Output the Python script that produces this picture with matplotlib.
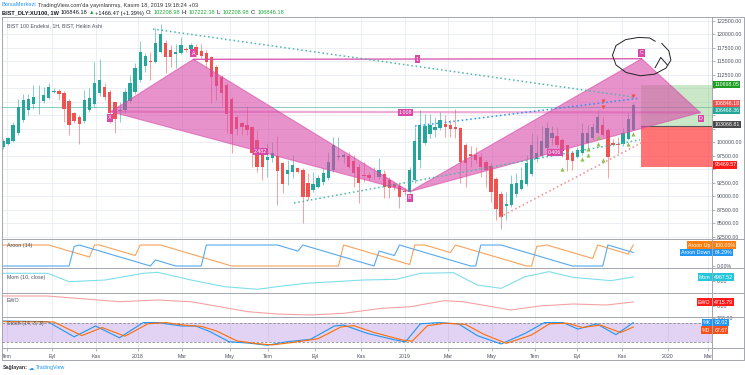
import numpy as np
import matplotlib
matplotlib.use("Agg")
import matplotlib.pyplot as plt
from matplotlib import font_manager
import matplotlib.transforms as mtrans
from matplotlib.patches import Polygon, Rectangle

_names = {f.name for f in font_manager.fontManager.ttflist}
if 'Liberation Sans Narrow' in _names:
    BASE = 'Liberation Sans Narrow'
    NARROW = True
elif 'Liberation Sans' in _names:
    BASE = 'Liberation Sans'
    NARROW = False
else:
    BASE = 'DejaVu Sans'
    NARROW = False
plt.rcParams['font.family'] = [BASE, 'DejaVu Sans']

# ------------------------------------------------------------------ data
ha_open = [99170, 99670, 100280, 101640, 104110, 105960, 107010, 107750, 107690, 108250,
           109300, 109420, 109170, 107690, 105410, 104670, 103990, 105900, 107070, 109050,
           110280, 109300, 107380, 105840, 105960, 107630, 109240, 111520, 114110, 115040,
           114910, 116640, 118310, 117070, 116400, 116520, 117260, 117200, 117570, 116890,
           116460, 115720, 113930, 112140, 110650, 107940, 104730, 103560, 103190, 102750,
           100350, 97880, 96700, 97010, 97510, 96090, 94110, 94480, 95160, 94850,
           92380, 91150, 91700, 92570, 93430, 94910, 97200, 97320, 97510, 96520,
           95410, 93930, 93860, 93620, 93560, 94050, 92940, 92200, 91950, 90960,
           90840, 93000, 96640, 99910, 101460, 102320, 102570, 103370, 103120, 102820,
           102690, 99540, 97880, 97690, 97200, 96330, 95590, 93250, 90410, 88250,
           88430, 90350, 91400, 92200, 94170, 96830, 97440, 98860, 100720, 101210,
           100350, 99420, 98060, 97320, 97940, 99790, 100720, 101770, 103190, 102260,
           99790, 99670, 99610, 100650, 102208.98]
ha_high = [100650, 101020, 103800, 107940, 108930, 108930, 110590, 110590, 110280, 110900,
           109980, 109790, 109540, 107940, 105650, 105040, 109670, 109980, 114910, 115350,
           110900, 109670, 107510, 107510, 109980, 112450, 114610, 118740, 116460, 116770,
           121090, 121890, 118930, 118000, 118190, 119540, 117690, 118430, 118190, 118120,
           117070, 115960, 114300, 112450, 110900, 108430, 105040, 103800, 106700, 103000,
           102260, 98250, 99790, 100100, 101150, 96400, 96700, 97630, 95470, 95160,
           94230, 94540, 93930, 95160, 98250, 100900, 101020, 98060, 98250, 97630,
           96090, 96400, 94540, 95470, 97010, 94850, 93620, 92690, 92380, 91460,
           95470, 102880, 105960, 105220, 105220, 104730, 105650, 105040, 104110, 106090,
           102880, 99790, 99300, 99170, 97940, 96700, 96090, 93620, 91020, 90840,
           93930, 94230, 95470, 97630, 101640, 101330, 103000, 103800, 103000, 102880,
           100720, 99480, 98250, 99170, 103490, 103190, 103490, 105960, 104730, 102570,
           100530, 101020, 102570, 105350, 107222.38]
ha_low = [98800, 99420, 100040, 101330, 103800, 105040, 106090, 105220, 107320, 107940,
          109050, 107820, 103800, 101330, 103490, 99610, 103620, 105650, 106460, 108560,
          107820, 103490, 101770, 103800, 105470, 107320, 108930, 111210, 113060, 111520,
          114610, 116460, 112750, 113990, 113680, 116330, 116770, 116950, 115720, 115530,
          113680, 107200, 107820, 106700, 101640, 98060, 101330, 101330, 101330, 95470,
          94540, 93000, 93620, 96400, 88370, 90530, 92070, 93310, 94230, 84980,
          89300, 90840, 91460, 92070, 93000, 94540, 96700, 96090, 95160, 91770,
          88800, 92690, 93000, 93120, 93120, 89600, 89600, 91150, 87750, 90220,
          90530, 92380, 95160, 99480, 100720, 101020, 102260, 101020, 101020, 100720,
          92380, 91770, 95470, 96090, 93620, 91770, 88990, 85590, 83860, 85590,
          88060, 89910, 91150, 91890, 93740, 96400, 97200, 98560, 99480, 99170,
          97200, 94730, 94850, 97010, 97630, 98860, 100410, 101640, 101020, 93310,
          99300, 97940, 99300, 100410, 102208.98]
ha_close = [100280, 100720, 103190, 106580, 107820, 108000, 108310, 107880, 108800, 110280,
            109540, 108860, 106210, 103120, 103990, 103310, 107820, 108190, 111030, 111460,
            108310, 105470, 104230, 106030, 109360, 110900, 113800, 116770, 115960, 114790,
            118310, 119980, 115780, 115720, 116700, 117940, 117070, 118000, 116150, 116030,
            114910, 112140, 110410, 109170, 105220, 101520, 102380, 102750, 102260, 97940,
            95350, 95470, 97320, 97940, 94730, 92200, 94850, 95780, 94540, 89910,
            89910, 92260, 93430, 94230, 96400, 99480, 97440, 97630, 95470, 94230,
            92380, 93800, 93310, 93490, 94850, 91770, 91460, 91640, 89910, 90720,
            94850, 100280, 103190, 103000, 103190, 102750, 104110, 102880, 102440, 102510,
            96400, 96210, 97510, 96700, 95470, 94850, 90840, 87570, 86090, 88560,
            92200, 92380, 93000, 96090, 99480, 98060, 100280, 102570, 101640, 99480,
            98430, 96700, 96520, 98560, 101640, 101640, 102750, 104610, 101330, 97320,
            99540, 99480, 101640, 104230, 106846.18]

price_ticks = list(range(82500, 122501, 2500))
hidden_ticks = [110000, 107500, 105000, 102500, 95000]

month_labels = ['Tem', 'Eyl', 'Kas', '2018', 'Mar', 'May', 'Tem', 'Eyl', 'Kas',
                '2019', 'Mar', 'May', 'Tem', 'Eyl', 'Kas', '2020', 'Mar']
month_pos = [0.79, 9.64, 18.30, 26.56, 35.22, 44.66, 52.13, 61.38, 70.43,
             79.09, 87.55, 96.20, 104.66, 112.92, 121.78, 130.83, 138.70]

# harmonic pattern points
pat_names = ['X', 'A', 'B', 'C', 'D']
pat_idx = [21.19, 37.44, 80.01, 125.65, 137.12]
pat_price = [105650, 115350, 90830, 115450, 105500]
ratio_pairs = [(0, 2), (1, 3), (2, 4), (0, 4)]
ratio_text = ['2.482', '1', '0.406', '1.008']

# dotted trend lines
tl_idx = [(29.51, 123.94), (57.25, 125.32), (81.06, 125.32), (97.78, 125.91)]
tl_price = [(120960, 108370), (88740, 100430), (102980, 108165), (86150, 100035)]
tl_color = ['#4db6ac', '#4db6ac', '#2196f3', '#f28b8b']

# signal markers
buy_idx = [110, 114, 115, 115, 117, 117, 118, 123, 124]
buy_price = [95040, 96890, 97630, 98740, 100870, 99670, 96700, 99670, 101520]
sell_idx = [118, 118, 124]
sell_price = [107630, 106430, 108550]

# long position tool & horizontal line
pos_start = 125.5
pos_target = 110668.05
pos_entry = 103068.81
pos_stop = 95469.57
hline_teal = 106468.36
last_close = 106846.18

# freehand circle around C
free_idx = [128.3, 127.2, 125.0, 122.5, 120.6, 119.9, 120.6, 122.6, 125.4, 128.2, 130.4, 131.4, 131.0, 129.6]
free_price = [118700, 119300, 119400, 119000, 117900, 116100, 114300, 112900, 112300, 112600, 113700, 115200, 116900, 118300]
arrow_idx = [128.3, 129.4, 130.7]
arrow_price = [113800, 115700, 114300]

aroon_up_idx = [0, 9, 17, 18, 19, 26, 27, 31, 45, 66, 67, 80, 81, 83, 88, 89, 103, 104, 105, 107, 114, 116, 117, 123, 124]
aroon_up_val = [100, 100, 43, 100, 100, 50, 100, 100, 0, 0, 100, 7, 100, 100, 64, 100, 0, 0, 93, 100, 50, 36, 100, 57, 100]
aroon_dn_idx = [0, 13, 14, 15, 29, 30, 33, 34, 39, 40, 54, 58, 59, 73, 74, 77, 78, 92, 93, 94, 98, 112, 118, 119, 124]
aroon_dn_val = [0, 0, 93, 100, 0, 29, 7, 0, 0, 100, 100, 71, 100, 0, 71, 50, 100, 0, 0, 100, 100, 0, 0, 100, 64.29]

mom_idx = [0, 8.8, 13, 20.1, 27.6, 30.4, 37, 43.6, 50.1, 53.9, 59.5, 65.2, 70.8, 77.4, 82.1, 88.6, 93.3, 98, 102.7, 107.4, 112.1, 119.6, 124]
mom_val = [9560, 9560, -870, 1240, 9560, 10800, 1240, -7080, -10300, -7080, -2860, -870, 1240, 2070, 9560, 10350, -4970, -9110, 5380, 11600, 4550, 410, 4967.52]

ewo_idx = [0, 8.8, 22.9, 30.4, 37, 42.6, 48.2, 53.9, 60.5, 67, 74.5, 80.2, 86.8, 90.5, 96.2, 99.9, 105.5, 112.1, 118.7, 124]
ewo_val = [11790, 11790, 5070, 7070, 5070, -800, -6720, -9430, -10600, -8650, -2750, -800, 6290, 5070, -800, -4720, 0, 2360, 1180, 4715.79]

stk_idx = [0, 8.8, 14, 18.2, 22.9, 27.6, 30.4, 35.1, 37.9, 40.7, 44.5, 48.2, 52, 55.8, 60.5, 65.2, 67, 71.7, 77.4, 79.2, 82.1, 85.8, 89.6, 93.3, 98, 102.7, 106.5, 110.2, 113.1, 116.8, 120.6, 124]
stk_val = [87, 85, 36, 71, 33, 82, 82, 71, 71, 53, 20, 16, 9, 20, 28, 71, 74, 47, 25, 20, 78, 82, 78, 40, 13, 47, 82, 82, 61, 78, 43, 82.02]
std_idx = [0, 10, 15.5, 19.5, 24, 28.5, 32, 36, 39, 42, 46, 50, 53, 57, 62, 66.5, 69, 73, 78.5, 80.5, 83.5, 87, 91, 94.5, 99, 104, 107.5, 111, 114, 117.5, 121.5, 124]
std_val = [85, 84, 40, 66, 38, 78, 82, 73, 70, 55, 23, 14, 10, 18, 30, 68, 72, 50, 26, 22, 72, 80, 76, 45, 15, 42, 78, 80, 66, 74, 50, 67.67]

# ------------------------------------------------------------------ layout
W, H = 745, 375
PX0, PXS = 3.0, 5.083
XL = ((2 - PX0) / PXS, (712 - PX0) / PXS)
GRID = '#e8edf3'
UP, DN = '#26a69a', '#ef5350'
PINK = '#d84aa8'
FS = 4.6 if NARROW else 3.8
FSH = 4.9 if NARROW else 4.05

fig = plt.figure(figsize=(W / 100, H / 100), dpi=100)
fig.patch.set_facecolor('white')


def pane(y0, y1):
    ax = fig.add_axes([2 / W, 1 - y1 / H, 710 / W, (y1 - y0) / H])
    ax.set_xlim(*XL)
    ax.set_facecolor('none')
    for s in ax.spines.values():
        s.set_visible(False)
    ax.tick_params(which='both', left=False, bottom=False, right=False, top=False,
                   labelleft=False, labelbottom=False)
    for p in month_pos:
        ax.axvline(p, color=GRID, lw=0.6, zorder=0)
    return ax


def right_ticks(ax, ticks, labels):
    ax.set_yticks(ticks)
    ax.set_yticklabels(labels)
    ax.tick_params(axis='y', right=True, labelright=True, length=2, width=0.5,
                   color='#9598a1', labelsize=FS, labelcolor='#4c525e', pad=1.5)


def side_label(ax, y, name, value, fc):
    tr = mtrans.blended_transform_factory(ax.transAxes, ax.transData)
    kw = dict(transform=tr, fontsize=FS, color='white', va='center',
              bbox=dict(boxstyle='square,pad=0.2', fc=fc, ec='none'), zorder=20, clip_on=False)
    if name:
        ax.text(0.9982, y, name, ha='right', **kw)
    ax.text(1.0032, y, value, ha='left', **kw)


# ------------------------------------------------------------------ main pane
ax = pane(18, 239)
ax.set_ylim(82070, 123000)
for t in price_ticks:
    ax.axhline(t, color=GRID, lw=0.6, zorder=0)
right_ticks(ax, price_ticks, ['' if t in hidden_ticks else f'{t:.2f}' for t in price_ticks])

idx = np.arange(len(ha_open))
o = np.array(ha_open); c = np.array(ha_close)
hi = np.array(ha_high); lo = np.array(ha_low)
cols = np.where(c >= o, UP, DN)
ax.vlines(idx, lo, hi, colors=cols, lw=0.7, alpha=0.55, zorder=3)
ax.bar(idx, np.maximum(np.abs(c - o), 150), bottom=np.minimum(o, c), width=0.66,
       color=cols, zorder=3.1, linewidth=0)

# horizontal teal line
ax.axhline(hline_teal, color='#4db6ac', lw=0.6, alpha=0.8, zorder=2)

# long position tool
ax.add_patch(Rectangle((pos_start, pos_entry), XL[1] - pos_start, pos_target - pos_entry,
                       fc='#7cc576', alpha=0.4, ec='none', zorder=2))
ax.add_patch(Rectangle((pos_start, pos_stop), XL[1] - pos_start, pos_entry - pos_stop,
                       fc='#ff3b3b', alpha=0.7, ec='none', zorder=2))
ax.plot([pos_start, XL[1]], [pos_entry, pos_entry], color='#555555', lw=0.8, zorder=2.5)

# harmonic pattern
P = list(zip(pat_idx, pat_price))
for tri in ([P[0], P[1], P[2]], [P[2], P[3], P[4]]):
    ax.add_patch(Polygon(tri, closed=True, fc=PINK, alpha=0.6, ec=PINK, lw=0.8, zorder=4))
ax.plot([pat_idx[1], pat_idx[3]], [pat_price[1], pat_price[3]], color=PINK, lw=0.9, zorder=4.2)
ax.plot([pat_idx[0], pat_idx[4]], [pat_price[0], pat_price[4]], color=PINK, lw=1.6, alpha=0.45, zorder=4.2)
for (a, b), txt in zip(ratio_pairs, ratio_text):
    ax.text((pat_idx[a] + pat_idx[b]) / 2, (pat_price[a] + pat_price[b]) / 2, txt,
            fontsize=FS, color='white', ha='center', va='center', zorder=9,
            bbox=dict(boxstyle='square,pad=0.2', fc=PINK, ec='none'))
offs = [(-1, -6), (0, 6), (0, -6), (0, 6), (1, -6)]
for name, xi, yi, (dx, dy) in zip(pat_names, pat_idx, pat_price, offs):
    tr = mtrans.offset_copy(ax.transData, fig=fig, x=dx, y=dy, units='dots')
    ax.text(xi, yi, name, transform=tr, fontsize=FS, color='white', ha='center', va='center',
            zorder=9, bbox=dict(boxstyle='square,pad=0.25', fc=PINK, ec='none'))

# dotted trend lines
for (x0, x1), (y0, y1), col in zip(tl_idx, tl_price, tl_color):
    ax.plot([x0, x1], [y0, y1], color=col, lw=1.1, ls=(0, (1, 1.8)), zorder=5)

# signals
ax.scatter(buy_idx, buy_price, marker='^', s=9, color='#8bc34a', linewidths=0, zorder=6)
ax.scatter(sell_idx, sell_price, marker='v', s=9, color='#ef5350', linewidths=0, zorder=6)

# freehand circle
ax.plot(free_idx, free_price, color='#222222', lw=0.7, zorder=7)
ax.plot(arrow_idx, arrow_price, color='#222222', lw=0.7, zorder=7)

# price labels on axis
side_label(ax, pos_target, None, f'{pos_target:.2f}', '#1b9e22')
side_label(ax, 107130, None, f'{last_close:.2f}', '#ef5350')
side_label(ax, 105830, None, f'{hline_teal:.2f}', '#26a69a')
side_label(ax, 103310, None, f'{pos_entry:.2f}', '#4a4a4a')
side_label(ax, 95780, None, f'{pos_stop:.2f}', '#ff1a1a')

ax.text(0.007, 0.965, 'BIST 100 Endeksi, 1H, BIST, Heikin Ashi', transform=ax.transAxes,
        fontsize=FS, color='#4c525e', ha='left', va='center', zorder=10)

# ------------------------------------------------------------------ Aroon
axa = pane(239, 268)
axa.set_ylim(-9.5, 128.6)
axa.plot(aroon_up_idx, aroon_up_val, color='#f7a35c', lw=0.8)
axa.plot(aroon_dn_idx, aroon_dn_val, color='#58a9ee', lw=0.8)
right_ticks(axa, [0], ['0.00%'])
axa.text(0.007, 0.78, 'Aroon (14)', transform=axa.transAxes, fontsize=FS, color='#4c525e', va='center')
side_label(axa, 100, 'Aroon Up', '100.00%', '#ff7f0e')
side_label(axa, 64.29, 'Aroon Down', '64.29%', '#2196f3')

# ------------------------------------------------------------------ Mom
axm = pane(268, 293)
axm.set_ylim(-14900, 16150)
axm.plot(mom_idx, mom_val, color='#80deea', lw=0.8)
right_ticks(axm, [0], ['0.00'])
axm.text(0.007, 0.62, 'Mom (10, close)', transform=axm.transAxes, fontsize=FS, color='#4c525e', va='center')
side_label(axm, mom_val[-1], 'Mom', f'{mom_val[-1]:.2f}', '#26c6da')

# ------------------------------------------------------------------ EWO
axe = pane(293, 317)
axe.set_ylim(-12970, 15330)
axe.plot(ewo_idx, ewo_val, color='#f4a3a3', lw=0.8)
right_ticks(axe, [0], ['0.00'])
axe.text(0.007, 0.68, 'EWO', transform=axe.transAxes, fontsize=FS, color='#4c525e', va='center')
side_label(axe, ewo_val[-1], 'EWO', f'{ewo_val[-1]:.2f}', '#ff1a1a')

# ------------------------------------------------------------------ Stoch
axs = pane(317, 348)
axs.set_ylim(0, 100)
axs.axhspan(20, 80, color='#a070e0', alpha=0.3, lw=0, zorder=0.5)
axs.axhline(80, color='#8a8a8a', lw=0.6, ls=(0, (3, 2)))
axs.axhline(20, color='#8a8a8a', lw=0.6, ls=(0, (3, 2)))
axs.plot(stk_idx, stk_val, color='#2196f3', lw=0.8)
axs.plot(std_idx, std_val, color='#ff6d00', lw=0.8)
right_ticks(axs, [97], ['100.00'])
axs.text(0.007, 0.8, 'Stoch (14, 3, 3)', transform=axs.transAxes, fontsize=FS, color='#4c525e', va='center')
side_label(axs, stk_val[-1], '%K', f'{stk_val[-1]:.2f}', '#2196f3')
side_label(axs, 58, '%D', f'{std_val[-1]:.2f}', '#f4511e')
axs.set_xticks(month_pos)
axs.set_xticklabels(month_labels)
axs.tick_params(axis='x', bottom=True, labelbottom=True, length=2, width=0.5, color='#9598a1',
                labelsize=FS, labelcolor='#4c525e', pad=2.5)

# ------------------------------------------------------------------ frame / separators
ov = fig.add_axes([0, 0, 1, 1], zorder=30)
ov.set_xlim(0, W); ov.set_ylim(H, 0); ov.axis('off'); ov.patch.set_alpha(0)
fcol = '#a3a6af'
ov.plot([2, 744, 744, 2, 2], [17, 17, 360, 360, 17], color=fcol, lw=0.7)
ov.plot([712, 712], [17, 360], color=fcol, lw=0.7)
for yy in (239, 268, 293, 317, 348):
    ov.plot([2, 744], [yy, yy], color=fcol, lw=0.7)

# ------------------------------------------------------------------ header / footer
renderer = fig.canvas.get_renderer()


def seg_text(x_px, y_px, parts, size, gap=1.4):
    x = x_px
    for s, col, wt in parts:
        t = fig.text(x / W, 1 - y_px / H, s, fontsize=size, color=col, fontweight=wt,
                     ha='left', va='center')
        x += t.get_window_extent(renderer=renderer).width + gap


GREEN = '#22a93a'
DARK = '#131722'
seg_text(2, 5, [('BorsaMerkezi', '#2196f3', 'normal'),
                ("TradingView.com'da yayınlanmış, Kasım 18, 2019 19:18:24 +03", '#333333', 'normal')], FSH)
seg_text(2, 13, [('BIST_DLY:XU100, 1W', DARK, 'bold'), ('106846.18', DARK, 'normal'),
                 ('▲', GREEN, 'normal'), ('+1466.47 (+1.39%)', DARK, 'normal'),
                 ('O:', DARK, 'normal'), ('102208.98', GREEN, 'normal'),
                 ('H:', DARK, 'normal'), ('107222.38', GREEN, 'normal'),
                 ('L:', DARK, 'normal'), ('102208.98', GREEN, 'normal'),
                 ('C:', DARK, 'normal'), ('106846.18', GREEN, 'normal')], FSH)
seg_text(3, 368, [('Sağlayan:', '#333333', 'bold'), ('☁', '#2196f3', 'normal'),
                  ('TradingView', '#2196f3', 'normal')], FS)

fig.savefig('out.png', dpi=100, facecolor='white')
